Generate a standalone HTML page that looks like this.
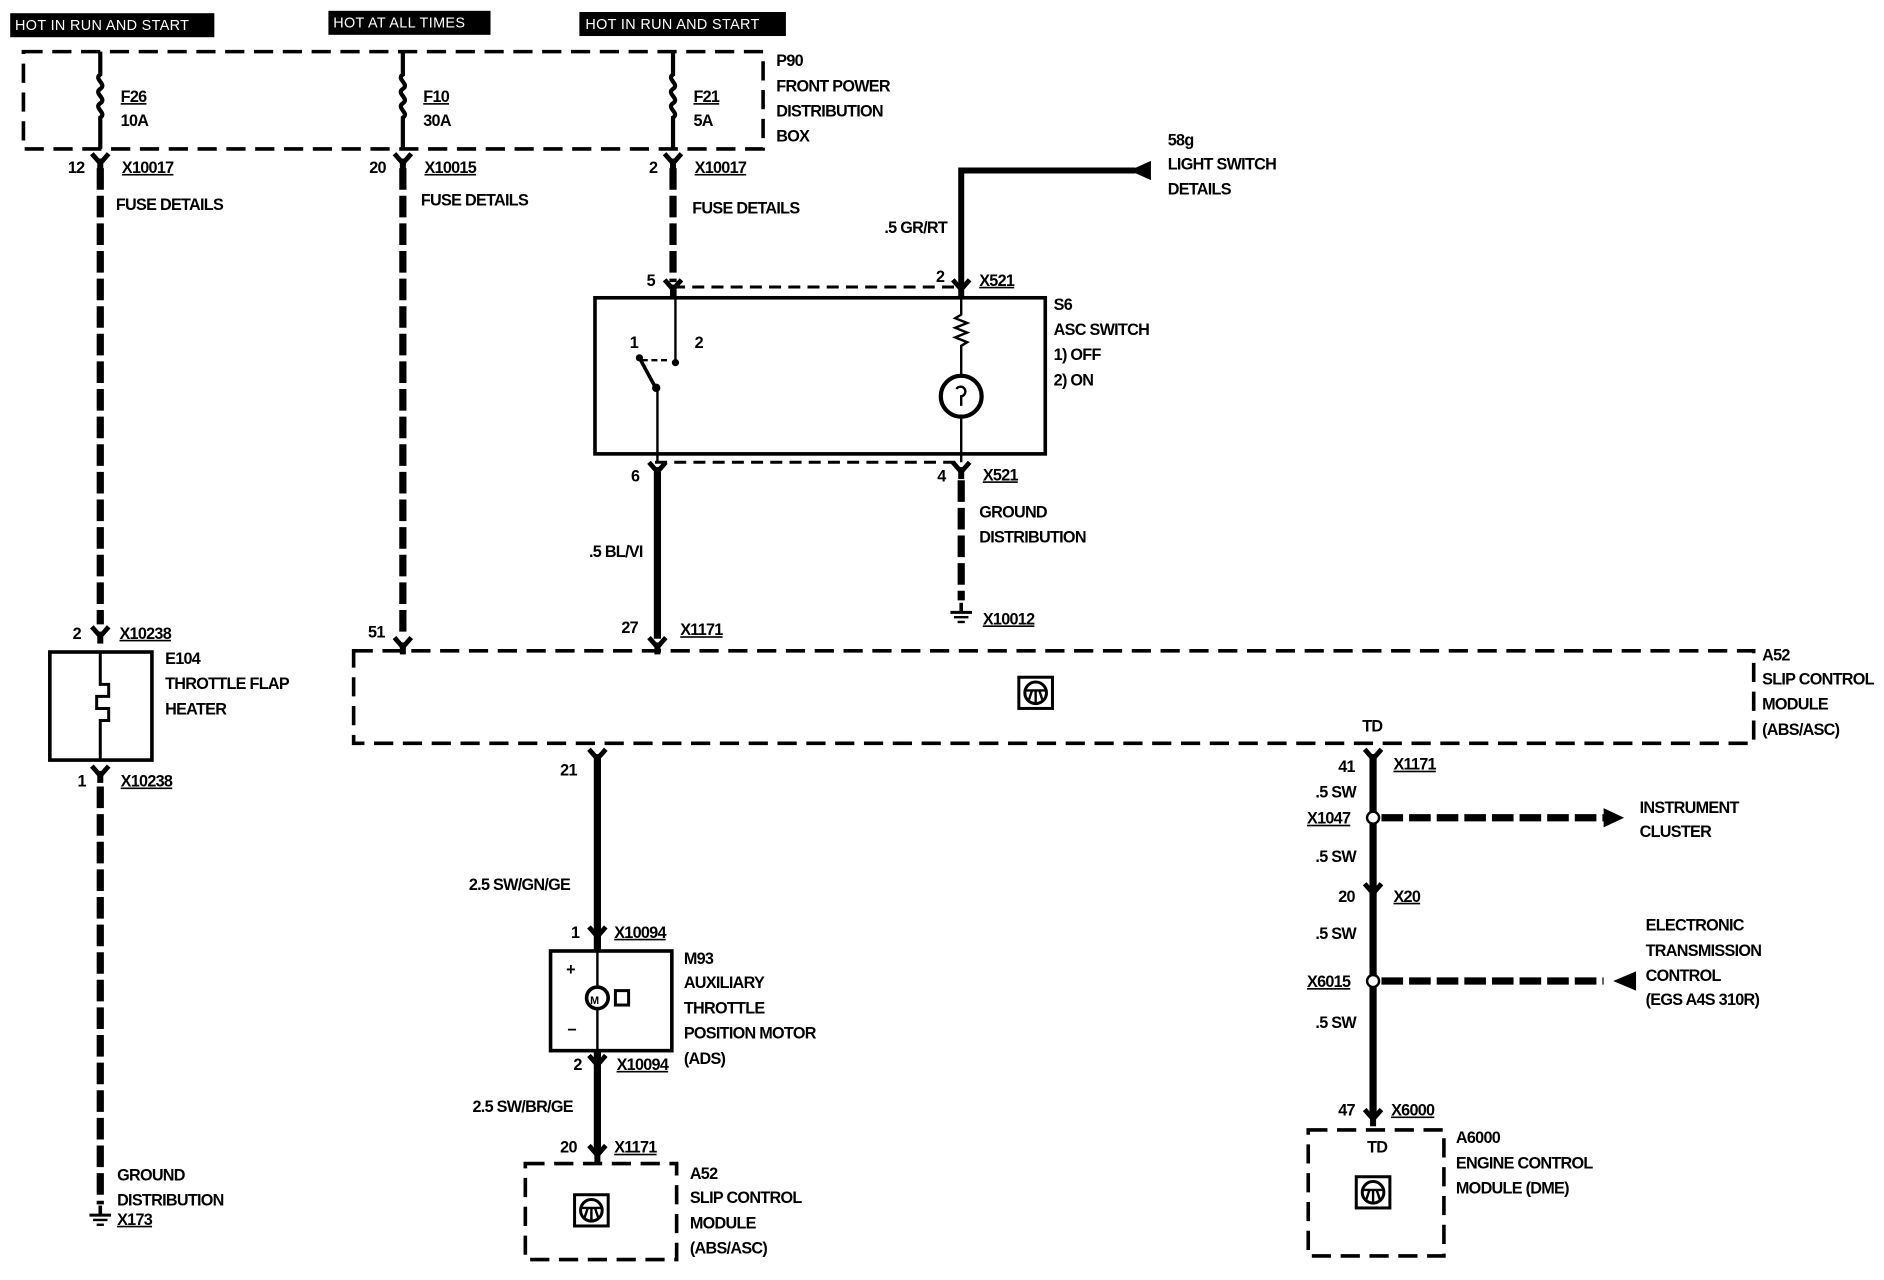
<!DOCTYPE html>
<html><head><meta charset="utf-8"><style>
html,body{margin:0;padding:0;background:#fff;}
svg{display:block}
text{font-family:"Liberation Sans",Arial,sans-serif;font-weight:bold;font-size:13.5px;fill:#000;letter-spacing:-0.6px}
.w{fill:#fff;font-size:12px;letter-spacing:0.3px;font-weight:normal}
</style></head><body>
<svg width="1884" height="1280" viewBox="0 0 1568 1066" xmlns="http://www.w3.org/2000/svg">
<defs>
<g id="conn"><path d="M-7,-8 L0,0 L7,-8" fill="none" stroke="#000" stroke-width="4"/><rect x="-2.5" y="-4" width="5" height="10" fill="#000"/></g>
<g id="gnd"><line x1="0" y1="-8" x2="0" y2="0" stroke="#000" stroke-width="3"/><line x1="-9" y1="0" x2="9" y2="0" stroke="#000" stroke-width="2.5"/><line x1="-6" y1="4" x2="6" y2="4" stroke="#000" stroke-width="2"/><line x1="-3" y1="8" x2="3" y2="8" stroke="#000" stroke-width="2"/></g>
<g id="icon"><rect x="-14" y="-13" width="28" height="26" fill="none" stroke="#000" stroke-width="2.5"/><circle cx="0" cy="0" r="9" fill="none" stroke="#000" stroke-width="2.5"/><path d="M-8,-2 L8,-2 M0,-2 L0,9 M-3,-2 L-6,7 M3,-2 L6,7" stroke="#000" stroke-width="2"/></g>
</defs>
<rect width="1568" height="1066" fill="#fff"/>
<!-- top labels -->
<rect x="8" y="11" width="170" height="20" fill="#000"/><text class="w" x="12" y="25">HOT  IN  RUN  AND  START</text>
<rect x="273" y="9" width="135" height="20" fill="#000"/><text class="w" x="277" y="23">HOT  AT ALL  TIMES</text>
<rect x="482" y="10" width="172" height="20" fill="#000"/><text class="w" x="487" y="24">HOT  IN  RUN  AND  START</text>
<!-- P90 box -->
<rect x="19" y="43" width="616" height="81" fill="none" stroke="#000" stroke-width="3" stroke-dasharray="16,8"/>
<g stroke="#000" stroke-width="3.5" fill="none">
<path d="M83,43 V62 c-6,4 6,8 0,12 c-6,4 6,8 0,12 c-6,4 6,8 0,12 V124"/>
<path d="M335,43 V62 c-6,4 6,8 0,12 c-6,4 6,8 0,12 c-6,4 6,8 0,12 V124"/>
<path d="M560,43 V62 c-6,4 6,8 0,12 c-6,4 6,8 0,12 c-6,4 6,8 0,12 V124"/>
</g>
<text x="100" y="85" text-decoration="underline">F26</text><text x="100" y="105">10A</text>
<text x="352" y="85" text-decoration="underline">F10</text><text x="352" y="105">30A</text>
<text x="577" y="85" text-decoration="underline">F21</text><text x="577" y="105">5A</text>
<text x="646" y="55">P90</text><text x="646" y="76">FRONT POWER</text><text x="646" y="97">DISTRIBUTION</text><text x="646" y="118">BOX</text>
<use href="#conn" x="83" y="136"/><use href="#conn" x="335" y="136"/><use href="#conn" x="560" y="136"/>
<text x="56" y="144">12</text><text x="101" y="144" text-decoration="underline">X10017</text>
<text x="307" y="144">20</text><text x="353" y="144" text-decoration="underline">X10015</text>
<text x="540" y="144">2</text><text x="578" y="144" text-decoration="underline">X10017</text>
<text x="96" y="175">FUSE DETAILS</text><text x="350" y="171">FUSE DETAILS</text><text x="576" y="178">FUSE DETAILS</text>
<!-- wires dashed thick -->
<g stroke="#000" stroke-width="6" fill="none" stroke-dasharray="18,5">
<line x1="83" y1="140" x2="83" y2="520"/>
<line x1="335" y1="140" x2="335" y2="530"/>
<line x1="560" y1="140" x2="560" y2="235"/>
<line x1="83" y1="655" x2="83" y2="1003"/>
<line x1="800" y1="400" x2="800" y2="500"/>
<line x1="1150" y1="681" x2="1340" y2="681"/>
<line x1="1150" y1="817" x2="1335" y2="817"/>
</g>
<polygon points="1335,673 1352,681 1335,689" fill="#000"/>
<polygon points="1362,809 1343,817 1362,825" fill="#000"/>
<!-- E104 -->
<use href="#conn" x="83" y="530"/>
<text x="60" y="532">2</text><text x="99" y="532" text-decoration="underline">X10238</text>
<rect x="41" y="543" width="85" height="90" fill="none" stroke="#000" stroke-width="3"/>
<path d="M83,543 V570 H90 V580 H80 V590 H90 V600 H83 V633" fill="none" stroke="#000" stroke-width="2.5"/>
<text x="137" y="553">E104</text><text x="137" y="574">THROTTLE FLAP</text><text x="137" y="595">HEATER</text>
<use href="#conn" x="83" y="646"/>
<text x="64" y="655">1</text><text x="100" y="655" text-decoration="underline">X10238</text>
<use href="#gnd" x="83" y="1012"/>
<text x="97" y="983">GROUND</text><text x="97" y="1004">DISTRIBUTION</text><text x="97" y="1020" text-decoration="underline">X173</text>
<!-- S6 -->
<line x1="560" y1="239" x2="800" y2="239" stroke="#000" stroke-width="2.5" stroke-dasharray="10,6"/>
<line x1="545" y1="385" x2="800" y2="385" stroke="#000" stroke-width="2.5" stroke-dasharray="10,6"/>
<use href="#conn" x="560" y="241"/><use href="#conn" x="800" y="241"/>
<text x="538" y="238">5</text><text x="779" y="235">2</text><text x="815" y="238" text-decoration="underline">X521</text>
<path d="M800,240 V142 H945" fill="none" stroke="#000" stroke-width="5"/>
<polygon points="940,142 958,134 958,150" fill="#000"/>
<text x="736" y="194">.5 GR/RT</text>
<text x="972" y="121">58g</text><text x="972" y="141">LIGHT SWITCH</text><text x="972" y="162">DETAILS</text>
<rect x="495" y="248" width="375" height="130" fill="none" stroke="#000" stroke-width="3"/>
<line x1="562" y1="241" x2="562" y2="300" stroke="#000" stroke-width="2"/>
<circle cx="562" cy="302" r="3" fill="#000"/>
<line x1="534" y1="300" x2="555" y2="300" stroke="#000" stroke-width="2" stroke-dasharray="5,3"/>
<line x1="532" y1="298" x2="545" y2="322" stroke="#000" stroke-width="3"/>
<circle cx="546" cy="323" r="3.5" fill="#000"/><circle cx="532" cy="298" r="3" fill="#000"/>
<line x1="547" y1="323" x2="547" y2="385" stroke="#000" stroke-width="2"/>
<text x="524" y="290">1</text><text x="578" y="290">2</text>
<path d="M800,240 V262 l-5,3 l10,4 l-10,4 l10,4 l-10,4 l10,4 l-5,3 V313" fill="none" stroke="#000" stroke-width="2"/>
<circle cx="800" cy="330" r="17" fill="none" stroke="#000" stroke-width="3.5"/>
<path d="M796,324 a4,4 0 1 1 4,6 V338" fill="none" stroke="#000" stroke-width="2"/>
<line x1="800" y1="347" x2="800" y2="385" stroke="#000" stroke-width="2"/>
<text x="877" y="258">S6</text><text x="877" y="279">ASC SWITCH</text><text x="877" y="300">1)   OFF</text><text x="877" y="321">2)   ON</text>
<use href="#conn" x="547" y="393"/><use href="#conn" x="800" y="393"/>
<text x="525" y="401">6</text><text x="780" y="401">4</text><text x="818" y="400" text-decoration="underline">X521</text>
<line x1="547" y1="393" x2="547" y2="532" stroke="#000" stroke-width="6"/>
<text x="490" y="464">.5 BL/VI</text>
<text x="815" y="431">GROUND</text><text x="815" y="452">DISTRIBUTION</text>
<use href="#gnd" x="800" y="510"/><text x="818" y="520" text-decoration="underline">X10012</text>
<!-- A52 big -->
<use href="#conn" x="335" y="539"/><use href="#conn" x="547" y="539"/>
<text x="306" y="531">51</text><text x="517" y="527">27</text><text x="566" y="529" text-decoration="underline">X1171</text>
<rect x="294" y="542" width="1166" height="77" fill="none" stroke="#000" stroke-width="3" stroke-dasharray="16,8"/>
<use href="#icon" x="862" y="577"/>
<text x="1134" y="609">TD</text>
<text x="1467" y="550">A52</text><text x="1467" y="570">SLIP CONTROL</text><text x="1467" y="591">MODULE</text><text x="1467" y="612">(ABS/ASC)</text>
<!-- left lower chain -->
<use href="#conn" x="497" y="632"/>
<text x="466" y="646">21</text>
<line x1="497" y1="630" x2="497" y2="960" stroke="#000" stroke-width="6"/>
<text x="390" y="741">2.5 SW/GN/GE</text>
<use href="#conn" x="497" y="780"/>
<text x="475" y="781">1</text><text x="511" y="781" text-decoration="underline">X10094</text>
<rect x="458" y="792" width="101" height="83" fill="#fff" stroke="#000" stroke-width="3"/>
<line x1="497" y1="792" x2="497" y2="875" stroke="#000" stroke-width="2"/>
<circle cx="497" cy="831" r="9" fill="#fff" stroke="#000" stroke-width="3"/>
<text x="491" y="836" style="font-size:9px">M</text>
<rect x="512" y="825" width="11" height="12" fill="none" stroke="#000" stroke-width="2.5"/>
<text x="471" y="812">+</text><text x="472" y="862">−</text>
<text x="569" y="803">M93</text><text x="569" y="823">AUXILIARY</text><text x="569" y="844">THROTTLE</text><text x="569" y="865">POSITION MOTOR</text><text x="569" y="886">(ADS)</text>
<use href="#conn" x="497" y="887"/>
<text x="477" y="891">2</text><text x="513" y="891" text-decoration="underline">X10094</text>
<text x="393" y="926">2.5 SW/BR/GE</text>
<use href="#conn" x="497" y="962"/>
<text x="466" y="960">20</text><text x="511" y="960" text-decoration="underline">X1171</text>
<rect x="437" y="969" width="126" height="80" fill="none" stroke="#000" stroke-width="3" stroke-dasharray="16,8"/>
<use href="#icon" x="492" y="1008"/>
<text x="574" y="982">A52</text><text x="574" y="1002">SLIP CONTROL</text><text x="574" y="1023">MODULE</text><text x="574" y="1044">(ABS/ASC)</text>
<!-- right chain -->
<use href="#conn" x="1143" y="632"/>
<line x1="1143" y1="630" x2="1143" y2="930" stroke="#000" stroke-width="6"/>
<text x="1114" y="643">41</text><text x="1160" y="641" text-decoration="underline">X1171</text>
<text x="1095" y="664">.5 SW</text>
<circle cx="1143" cy="681" r="5" fill="#fff" stroke="#000" stroke-width="2"/>
<text x="1088" y="686" text-decoration="underline">X1047</text>
<text x="1365" y="677">INSTRUMENT</text><text x="1365" y="697">CLUSTER</text>
<text x="1095" y="718">.5 SW</text>
<use href="#conn" x="1143" y="744"/>
<text x="1114" y="751">20</text><text x="1160" y="751" text-decoration="underline">X20</text>
<text x="1095" y="782">.5 SW</text>
<circle cx="1143" cy="817" r="5" fill="#fff" stroke="#000" stroke-width="2"/>
<text x="1088" y="822" text-decoration="underline">X6015</text>
<text x="1370" y="775">ELECTRONIC</text><text x="1370" y="796">TRANSMISSION</text><text x="1370" y="817">CONTROL</text><text x="1370" y="837">(EGS A4S 310R)</text>
<text x="1095" y="856">.5 SW</text>
<use href="#conn" x="1143" y="932"/>
<text x="1114" y="929">47</text><text x="1158" y="929" text-decoration="underline">X6000</text>
<rect x="1089" y="941" width="113" height="105" fill="none" stroke="#000" stroke-width="3" stroke-dasharray="16,8"/>
<text x="1138" y="960">TD</text>
<use href="#icon" x="1143" y="993"/>
<text x="1212" y="952">A6000</text><text x="1212" y="973">ENGINE CONTROL</text><text x="1212" y="994">MODULE (DME)</text>
</svg>
</body></html>
